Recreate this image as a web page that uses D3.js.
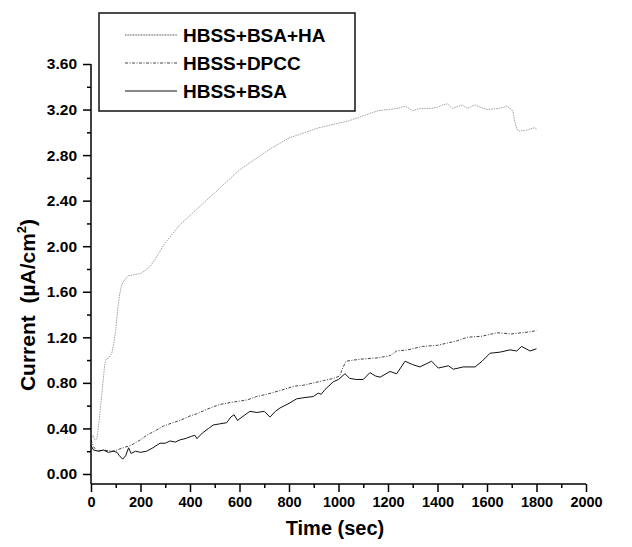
<!DOCTYPE html>
<html>
<head>
<meta charset="utf-8">
<script src="https://cdn.jsdelivr.net/npm/d3@7"></script>
<style>
  html, body { margin: 0; padding: 0; background: #fff; }
  svg text { font-family: "Liberation Sans", Arial, sans-serif; font-weight: bold; fill: #000; }
  .pre { white-space: pre; }
</style>
</head>
<body>
<svg id="chart" width="632" height="547"></svg>
<script>
// ---- data ----
const seriesNames = ["HBSS+BSA+HA", "HBSS+DPCC", "HBSS+BSA"];

const haTime = [0,8,16,24,32,40,48,56,62,72,84,92,100,108,116,124,134,150,175,200,220,238,258,279,300,330,360,400,440,480,520,560,600,640,680,720,760,800,840,880,920,960,1000,1040,1080,1120,1160,1200,1240,1270,1300,1330,1370,1400,1420,1440,1460,1500,1520,1550,1600,1650,1680,1700,1705,1712,1720,1730,1760,1790,1800];
const haValue = [0.31,0.34,0.30,0.31,0.45,0.62,0.80,0.97,1.01,1.02,1.06,1.15,1.26,1.45,1.58,1.66,1.70,1.74,1.75,1.76,1.79,1.82,1.88,1.96,2.03,2.11,2.19,2.27,2.35,2.43,2.51,2.59,2.67,2.73,2.79,2.85,2.90,2.95,2.98,3.01,3.04,3.06,3.08,3.10,3.13,3.16,3.19,3.20,3.21,3.23,3.19,3.21,3.21,3.22,3.24,3.25,3.21,3.24,3.21,3.24,3.20,3.21,3.23,3.20,3.18,3.10,3.03,3.01,3.02,3.04,3.03];

const dpccTime = [0,10,25,50,90,130,160,200,225,260,292,330,360,400,430,470,520,570,630,670,710,760,820,860,900,940,980,1005,1015,1030,1060,1100,1160,1210,1235,1280,1340,1400,1440,1480,1520,1580,1640,1700,1740,1780,1800];
const dpccValue = [0.30,0.24,0.20,0.21,0.20,0.23,0.25,0.30,0.34,0.38,0.42,0.45,0.47,0.51,0.53,0.57,0.61,0.63,0.65,0.68,0.70,0.73,0.77,0.78,0.80,0.82,0.84,0.86,0.92,0.99,1.00,1.01,1.02,1.04,1.08,1.09,1.12,1.13,1.15,1.17,1.20,1.21,1.24,1.23,1.24,1.25,1.26];

const bsaTime = [0,10,30,50,70,90,105,115,128,140,152,162,180,200,225,250,279,300,320,340,360,380,405,420,428,450,475,494,520,548,565,578,592,610,642,670,700,723,745,764,800,831,860,898,918,930,945,979,1000,1026,1045,1070,1100,1127,1150,1168,1208,1235,1269,1300,1329,1376,1390,1403,1444,1464,1504,1552,1580,1612,1653,1693,1720,1740,1774,1800];
const bsaValue = [0.25,0.21,0.20,0.21,0.19,0.20,0.19,0.16,0.13,0.16,0.23,0.18,0.20,0.19,0.20,0.23,0.27,0.27,0.29,0.28,0.30,0.31,0.33,0.34,0.31,0.36,0.40,0.43,0.44,0.45,0.50,0.52,0.47,0.50,0.55,0.54,0.55,0.50,0.55,0.58,0.62,0.66,0.67,0.68,0.71,0.70,0.74,0.81,0.83,0.88,0.84,0.83,0.83,0.89,0.86,0.85,0.90,0.88,0.99,0.96,0.94,0.99,0.96,0.93,0.95,0.92,0.94,0.94,0.99,1.06,1.07,1.09,1.08,1.12,1.08,1.10];

const xMajorTicks = [0,200,400,600,800,1000,1200,1400,1600,1800,2000];
const xMinorTicks = [100,300,500,700,900,1100,1300,1500,1700,1900];
const yMajorTicks = [0,0.4,0.8,1.2,1.6,2.0,2.4,2.8,3.2,3.6];
const yMinorTicks = [0.2,0.6,1.0,1.4,1.8,2.2,2.6,3.0,3.4];

// ---- drawing ----
const svg = d3.select("#chart");
const x = d3.scaleLinear().domain([0, 2000]).range([91, 586]);
const y = d3.scaleLinear().domain([-0.088, 3.6]).range([484, 64]);

const styles = [
  { stroke: "#a0a0a0", width: 1, dash: "1.5,1" },
  { stroke: "#444", width: 1, dash: "3,1.5,1,1.5" },
  { stroke: "#111", width: 1, dash: null }
];

const series = [
  d3.zip(haTime, haValue),
  d3.zip(dpccTime, dpccValue),
  d3.zip(bsaTime, bsaValue)
];

const line = d3.line().x(d => x(d[0])).y(d => y(d[1]));

series.forEach((s, i) => {
  svg.append("path")
    .datum(s)
    .attr("fill", "none")
    .attr("stroke", styles[i].stroke)
    .attr("stroke-width", styles[i].width)
    .attr("stroke-dasharray", styles[i].dash)
    .attr("d", line);
});

// x axis
const xAxisG = svg.append("g").attr("transform", `translate(0,${y.range()[0]})`);
xAxisG.call(d3.axisBottom(x).tickValues(xMajorTicks).tickSize(8).tickPadding(5).tickFormat(d3.format("d")));
xAxisG.append("g").call(d3.axisBottom(x).tickValues(xMinorTicks).tickSize(4).tickFormat(""));
xAxisG.selectAll(".domain").attr("stroke-width", 1.5).attr("d", `M${x(0)},0H${x(2000)}`);
xAxisG.selectAll("line").attr("stroke-width", 1.5);
xAxisG.selectAll("text").attr("font-size", 14.5).attr("font-family", null);
xAxisG.selectAll("g > g .domain").remove();

// y axis
const yAxisG = svg.append("g").attr("transform", `translate(${x.range()[0]},0)`);
yAxisG.call(d3.axisLeft(y).tickValues(yMajorTicks).tickSize(8).tickPadding(6).tickFormat(d3.format(".2f")));
yAxisG.append("g").call(d3.axisLeft(y).tickValues(yMinorTicks).tickSize(4).tickFormat(""));
yAxisG.selectAll(".domain").attr("stroke-width", 1.5).attr("d", `M0,${y.range()[0]}V${y.range()[1]}`);
yAxisG.selectAll("line").attr("stroke-width", 1.5);
yAxisG.selectAll("text").attr("font-size", 15.5).attr("font-family", null);
yAxisG.selectAll("g > g .domain").remove();

// axis titles
svg.append("text")
  .attr("x", 335).attr("y", 535)
  .attr("text-anchor", "middle")
  .attr("font-size", 20)
  .text("Time (sec)");

const yt = svg.append("text")
  .attr("class", "pre")
  .attr("transform", "translate(35,305) rotate(-90)")
  .attr("text-anchor", "middle")
  .attr("font-size", 21);
yt.append("tspan").text("Current  (\u00B5A/cm");
yt.append("tspan").attr("font-size", 13).attr("dy", -9).text("2");
yt.append("tspan").attr("dy", 9).text(")");

// legend
const lg = svg.append("g");
lg.append("rect")
  .attr("x", 99).attr("y", 13).attr("width", 256).attr("height", 98)
  .attr("fill", "#fff").attr("stroke", "#111").attr("stroke-width", 1.5);
const legendY = [35, 63, 91];
seriesNames.forEach((name, i) => {
  lg.append("line")
    .attr("x1", 125).attr("x2", 177)
    .attr("y1", legendY[i]).attr("y2", legendY[i])
    .attr("stroke", i === 0 ? "#555" : styles[i].stroke)
    .attr("stroke-width", 1)
    .attr("stroke-dasharray", i === 0 ? "1,0.6" : styles[i].dash);
  lg.append("text")
    .attr("x", 183).attr("y", legendY[i] + 7)
    .attr("font-size", 19)
    .text(name);
});
</script>
</body>
</html>
